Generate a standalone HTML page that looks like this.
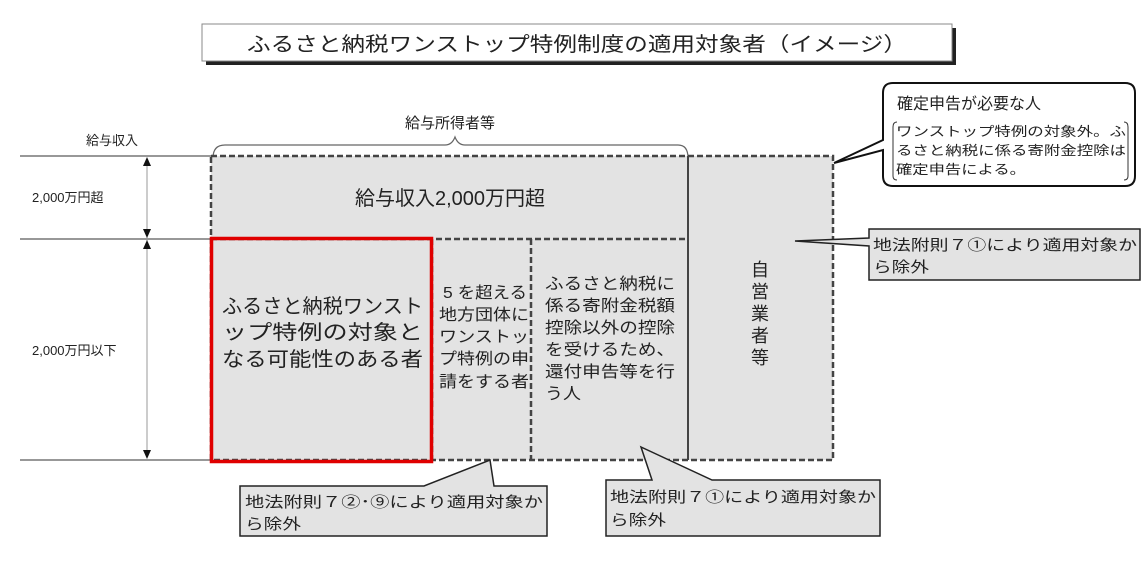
<!DOCTYPE html>
<html><head><meta charset="utf-8"><style>
html,body{margin:0;padding:0;background:#fff;}
svg{display:block;}
text{font-family:"Liberation Sans","Noto Sans CJK JP",sans-serif;fill:#222;}
</style></head><body>
<svg width="1145" height="567" viewBox="0 0 1145 567" xmlns="http://www.w3.org/2000/svg">
<!-- title -->
<rect x="206" y="28" width="750" height="37" fill="#222"/>
<rect x="202" y="24" width="750" height="37" fill="#fff" stroke="#888" stroke-width="1"/>
<text x="577" y="51" font-size="20" text-anchor="middle" textLength="660" lengthAdjust="spacingAndGlyphs">ふるさと納税ワンストップ特例制度の適用対象者（イメージ）</text>

<!-- left axis -->
<text x="86" y="145" font-size="13">給与収入</text>
<line x1="20" y1="156" x2="212" y2="156" stroke="#777" stroke-width="1.5"/>
<line x1="20" y1="239" x2="212" y2="239" stroke="#777" stroke-width="1.5"/>
<line x1="20" y1="460" x2="212" y2="460" stroke="#777" stroke-width="1.5"/>
<line x1="147" y1="158" x2="147" y2="458" stroke="#999" stroke-width="1"/>
<polygon points="147,157 143,166 151,166" fill="#111"/>
<polygon points="147,238 143,229 151,229" fill="#111"/>
<polygon points="147,240 143,249 151,249" fill="#111"/>
<polygon points="147,459 143,450 151,450" fill="#111"/>
<text x="32" y="202" font-size="13">2,000万円超</text>
<text x="32" y="355" font-size="13">2,000万円以下</text>

<!-- brace -->
<path d="M213,158 Q213,145 225,145 L445,145 Q452,145 455,137 Q458,145 465,145 L678,145 Q688,145 688,158" fill="none" stroke="#666" stroke-width="1.2"/>
<text x="450" y="128" font-size="15" text-anchor="middle">給与所得者等</text>

<!-- boxes -->
<rect x="211" y="156" width="622" height="304" fill="#e3e3e3"/>
<g fill="none" stroke="#444" stroke-width="2.5" stroke-dasharray="6,3">
<rect x="211" y="156" width="622" height="304"/>
<line x1="211" y1="239" x2="688" y2="239"/>
<line x1="432" y1="239" x2="432" y2="460"/>
<line x1="531" y1="239" x2="531" y2="460"/>
</g>
<line x1="688" y1="156" x2="688" y2="460" stroke="#444" stroke-width="2"/>
<text x="450" y="205" font-size="20" text-anchor="middle">給与収入2,000万円超</text>

<rect x="211.5" y="238.5" width="220" height="223" fill="none" stroke="#e00000" stroke-width="3.5"/>
<g font-size="20">
<text x="222" y="313" textLength="201" lengthAdjust="spacingAndGlyphs">ふるさと納税ワンスト</text>
<text x="222" y="339" textLength="201" lengthAdjust="spacingAndGlyphs">ップ特例の対象と</text>
<text x="222" y="366" textLength="201" lengthAdjust="spacingAndGlyphs">なる可能性のある者</text>
</g>
<g font-size="16">
<text x="443" y="298" textLength="84" lengthAdjust="spacingAndGlyphs">5 を超える</text>
<text x="439" y="320" textLength="90" lengthAdjust="spacingAndGlyphs">地方団体に</text>
<text x="439" y="342" textLength="90" lengthAdjust="spacingAndGlyphs">ワンストッ</text>
<text x="439" y="364" textLength="90" lengthAdjust="spacingAndGlyphs">プ特例の申</text>
<text x="439" y="387" textLength="90" lengthAdjust="spacingAndGlyphs">請をする者</text>
</g>
<g font-size="16">
<text x="545" y="289" textLength="130" lengthAdjust="spacingAndGlyphs">ふるさと納税に</text>
<text x="545" y="311" textLength="130" lengthAdjust="spacingAndGlyphs">係る寄附金税額</text>
<text x="545" y="333" textLength="130" lengthAdjust="spacingAndGlyphs">控除以外の控除</text>
<text x="545" y="355" textLength="130" lengthAdjust="spacingAndGlyphs">を受けるため、</text>
<text x="545" y="377" textLength="130" lengthAdjust="spacingAndGlyphs">還付申告等を行</text>
<text x="545" y="399" textLength="36" lengthAdjust="spacingAndGlyphs">う人</text>
</g>
<g font-size="18" text-anchor="middle">
<text x="760" y="276">自</text>
<text x="760" y="298">営</text>
<text x="760" y="320">業</text>
<text x="760" y="342">者</text>
<text x="760" y="364">等</text>
</g>

<!-- callout top right -->
<path d="M893,83 L1125,83 Q1135,83 1135,93 L1135,176 Q1135,186 1125,186 L893,186 Q883,186 883,176 L883,150 L834,163 L883,140 L883,93 Q883,83 893,83 Z" fill="#fff" stroke="#111" stroke-width="2"/>
<text x="897" y="109" font-size="16">確定申告が必要な人</text>
<path d="M897,122 Q893,122 893,127 L893,176 Q893,180 897,180" fill="none" stroke="#333" stroke-width="1"/>
<path d="M1124,122 Q1128,122 1128,127 L1128,176 Q1128,180 1124,180" fill="none" stroke="#333" stroke-width="1"/>
<g font-size="13">
<text x="896" y="136" textLength="230" lengthAdjust="spacingAndGlyphs">ワンストップ特例の対象外。ふ</text>
<text x="896" y="155" textLength="230" lengthAdjust="spacingAndGlyphs">るさと納税に係る寄附金控除は</text>
<text x="896" y="174" textLength="130" lengthAdjust="spacingAndGlyphs">確定申告による。</text>
</g>

<!-- callout right -->
<path d="M869,229 L1140,229 L1140,280 L869,280 L869,246 L795,241 L869,238 Z" fill="#e3e3e3" stroke="#222" stroke-width="1.5"/>
<text x="873" y="250" font-size="15" textLength="264" lengthAdjust="spacingAndGlyphs">地法附則７①により適用対象か</text>
<text x="873" y="272" font-size="15" textLength="56" lengthAdjust="spacingAndGlyphs">ら除外</text>

<!-- callout bottom left -->
<path d="M240,486 L424,486 L490,460 L494,486 L547,486 L547,536 L240,536 Z" fill="#e3e3e3" stroke="#222" stroke-width="1.5"/>
<text x="245" y="507" font-size="15" textLength="298" lengthAdjust="spacingAndGlyphs">地法附則７②･⑨により適用対象か</text>
<text x="245" y="529" font-size="15" textLength="56" lengthAdjust="spacingAndGlyphs">ら除外</text>

<!-- callout bottom right -->
<path d="M606,480 L652,480 L641,447 L712,480 L880,480 L880,536 L606,536 Z" fill="#e3e3e3" stroke="#222" stroke-width="1.5"/>
<text x="610" y="502" font-size="15" textLength="266" lengthAdjust="spacingAndGlyphs">地法附則７①により適用対象か</text>
<text x="610" y="525" font-size="15" textLength="56" lengthAdjust="spacingAndGlyphs">ら除外</text>
</svg>
</body></html>
